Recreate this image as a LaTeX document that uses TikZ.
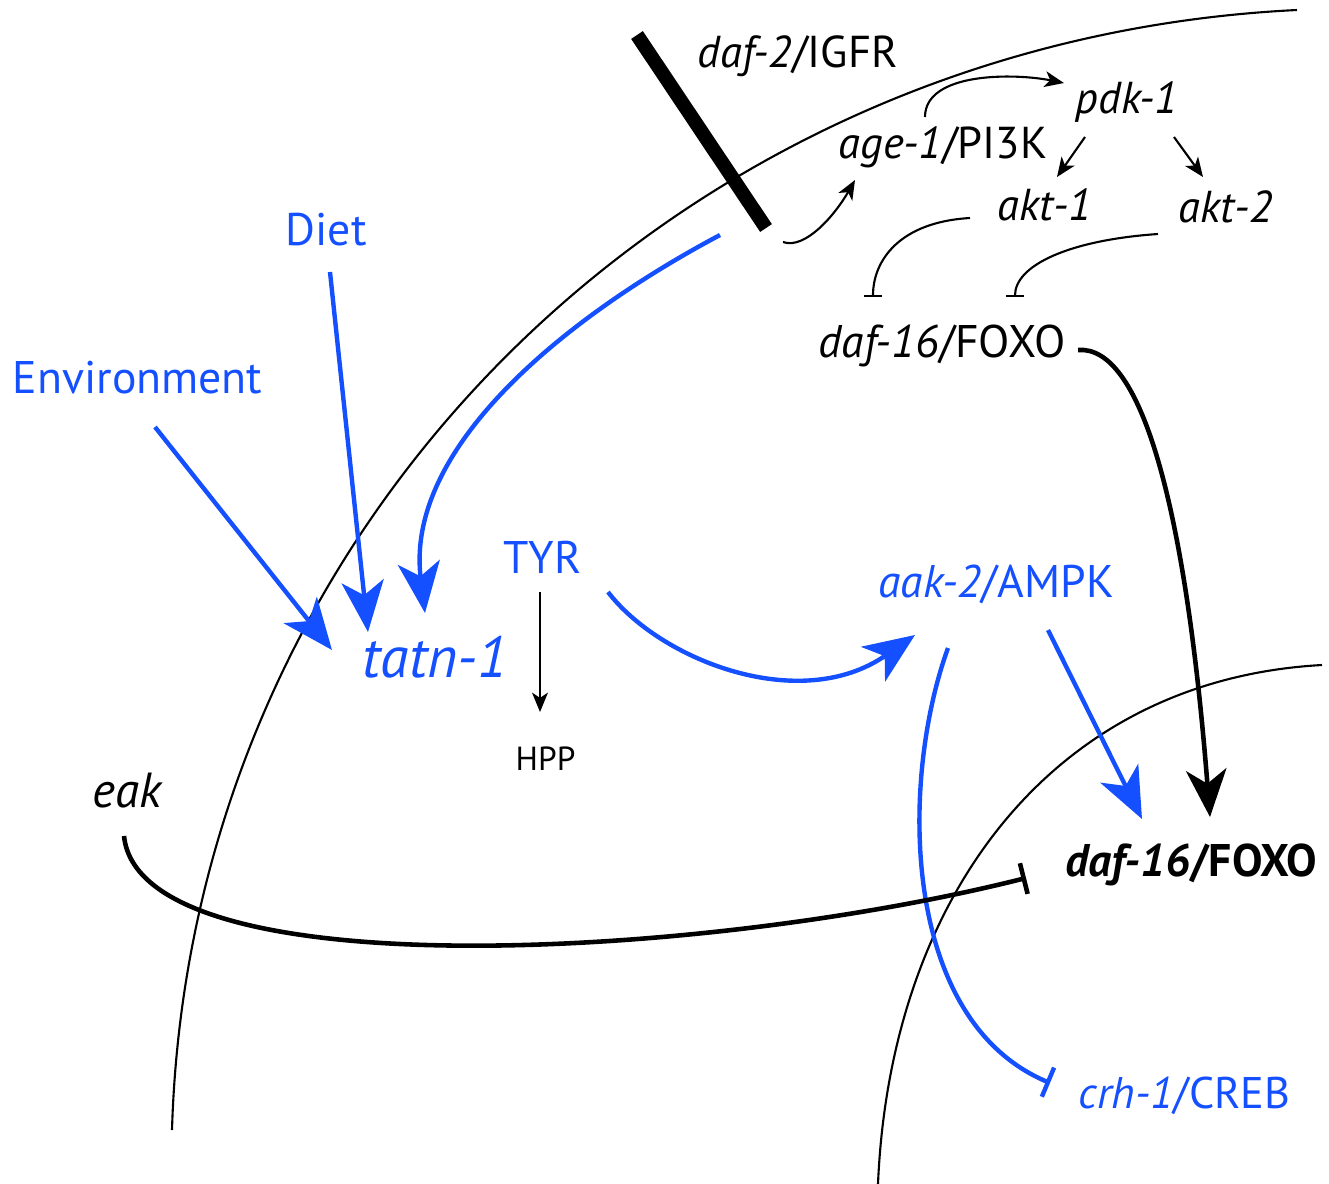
\documentclass[tikz,border=0pt]{standalone}
\usepackage{fontspec}
\setmainfont{PT Sans}
\usepackage{tikz}
\usetikzlibrary{arrows.meta}
\definecolor{pathblue}{RGB}{20,80,255}
\tikzset{>=latex}
\tikzset{
  lbl/.style={anchor=base west, inner sep=0pt, font=\fontsize{12.7}{15}\selectfont},
  bluelbl/.style={lbl, text=pathblue, font=\fontsize{13}{15}\selectfont},
  membrane/.style={line width=0.6pt},
  receptor/.style={line width=4pt},
  smallact/.style={line width=0.6pt, -{Stealth[length=5.5pt,width=4.5pt,inset=1.5pt]}},
  smallinh/.style={line width=0.6pt, -{Bar[width=5pt]}},
  bigact/.style={line width=1.3pt, -{Stealth[length=13.5pt,width=11.5pt,inset=4pt]}},
  biginh/.style={line width=1.3pt, -{Bar[width=9pt]}},
  blueact/.style={pathblue, line width=1.25pt, -{Stealth[length=14.5pt,width=12pt,inset=4pt]}},
  blueinh/.style={pathblue, line width=1.25pt, -{Bar[width=9pt]}}
}

\begin{document}
\begin{tikzpicture}[x=0.01cm, y=-0.01cm]
    \useasboundingbox (0,0) rectangle (1329,1184);
    % Cell membrane and nucleus
    \draw[membrane] (172,1130) .. controls (190,520) and (680,40) .. (1297,10);
    \draw[membrane] (878,1184) .. controls (890,900) and (1050,680) .. (1322,665);
    % Receptor in the membrane
    \coordinate (rtop) at (637,35);
    \coordinate (rbot) at (766,228);
    \draw[receptor] (rtop) -- (rbot);
    % Labels
    \node[lbl] (daftwo) at (697,67) {\textit{daf-2}/IGFR};
    \node[lbl] (pdk) at (1075,113) {\textit{pdk-1}};
    \node[lbl] (age) at (838,158) {\textit{age-1}/PI3K};
    \node[lbl] (aktone) at (997,220) {\textit{akt-1}};
    \node[lbl] (akttwo) at (1178,222) {\textit{akt-2}};
    \node[lbl, font=\fontsize{13}{15}\selectfont] (dafcyt) at (818,357) {\textit{daf-16}/FOXO};
    \node[bluelbl] (diet) at (285,245) {Diet};
    \node[bluelbl] (env) at (12,393) {Environment};
    \node[bluelbl] (tyr) at (503,573) {TYR};
    \node[bluelbl, font=\fontsize{16.5}{19}\selectfont] (tatn) at (362,677) {\textit{tatn-1}};
    \node[lbl, font=\fontsize{9.5}{11}\selectfont] (hpp) at (515,770) {HPP};
    \node[bluelbl] (aak) at (878,597) {\textit{aak-2}/AMPK};
    \node[lbl, font=\fontsize{14}{16}\selectfont] (eak) at (92,807) {\textit{eak}};
    \node[lbl, font=\fontsize{13}{15}\selectfont\bfseries] (dafnuc) at (1065,876) {\textit{daf-16}/FOXO};
    \node[bluelbl, font=\fontsize{12.6}{15}\selectfont] (crh) at (1078,1108) {\textit{crh-1}/CREB};
    % Insulin signalling cascade
    \draw[smallact] ([shift={(17,14)}]rbot) .. controls +(22,8) and +(-20,35) .. ([shift={(17,22)}]age.base west);
    \draw[smallact] ([shift={(87,-41)}]age.base west) .. controls +(0,-45) and +(-50,-10) .. ([shift={(-11,-30)}]pdk.base west);
    \draw[smallact] ([shift={(10,24)}]pdk.base west) -- ([shift={(60,-43)}]aktone.base west);
    \draw[smallact] ([shift={(99,24)}]pdk.base west) -- ([shift={(25,-45)}]akttwo.base west);
    \draw[smallinh] ([shift={(-27,-2)}]aktone.base west) .. controls +(-70,4) and +(0,-37) .. ([shift={(55,-60)}]dafcyt.base west);
    \draw[smallinh] ([shift={(-20,12)}]akttwo.base west) .. controls +(-88,6) and +(0,-32) .. ([shift={(197,-60)}]dafcyt.base west);
    \draw[bigact] ([shift={(260,-7)}]dafcyt.base west) .. controls +(62,-5) and +(-25,-317) .. ([shift={(145,-59)}]dafnuc.base west);
    % Inputs to tatn-1
    \draw[blueact] ([shift={(143,34)}]env.base west) -- ([shift={(-30,-27)}]tatn.base west);
    \draw[blueact] ([shift={(45,27)}]diet.base west) -- ([shift={(6,-45)}]tatn.base west);
    \draw[blueact] ([shift={(-46,7)}]rbot) .. controls +(-160,85) and +(-20,-163) .. ([shift={(63,-64)}]tatn.base west);
    % Tyrosine branch
    \draw[smallact] ([shift={(37,19)}]tyr.base west) -- ([shift={(25,-58)}]hpp.base west);
    \draw[blueact] ([shift={(105,19)}]tyr.base west) .. controls +(52,68) and +(-115,80) .. ([shift={(37,38)}]aak.base west);
    % AMPK targets
    \draw[blueact] ([shift={(170,33)}]aak.base west) -- ([shift={(77,-57)}]dafnuc.base west);
    \draw[blueinh] ([shift={(70,51)}]aak.base west) .. controls +(-48,132) and +(-150,-63) .. ([shift={(-28,-25)}]crh.base west);
    % eak inhibition
    \draw[biginh] ([shift={(32,29)}]eak.base west) .. controls +(16,154) and +(-326,82) .. ([shift={(-39,2)}]dafnuc.base west);
\end{tikzpicture}
\end{document}
